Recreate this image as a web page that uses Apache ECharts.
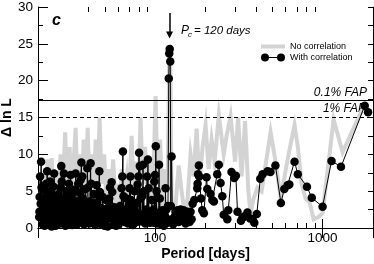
<!DOCTYPE html>
<html><head><meta charset="utf-8">
<script src="https://cdn.jsdelivr.net/npm/echarts@6/dist/echarts.min.js"></script>
<style>html,body{margin:0;padding:0;background:#fff}#c{width:374px;height:264px}</style>
</head><body><div id="c"></div>
<script>
// ---- data (period in days, Δ ln L) ----
const noCorrPeriods = [20.3,21.01,21.89,22.83,23.46,24.12,24.79,25.47,26.19,27.28,28.06,29.04,29.85,30.89,31.76,32.65,33.54,34.5,35.45,36.44,37.46,38.48,39.58,40.67,41.81,42.98,44.16,45.41,46.66,47.96,49.65,51.38,52.82,54.26,56.19,58.12,59.76,61.41,63.12,64.9,67.63,69.52,72.43,74.46,76.49,79.21,81.93,84.27,87.19,90.24,92.75,95.33,98.02,100.7,103.5,107.1,110.9,114.7,118.8,121.3,122.6,123.7,125.5,131,138.2,144,150.1,156.4,162.9,169.8,177,184.4,192.1,200.2,208.7,217.5,226.6,240.3,257,267.3,282.3,300.4,313,328.5,344.4,360.6,371.6,387.5,409,432.6,456.7,489.3,524.1,561.4,593.2,626.8,679.9,711.6,749.5,791.7,836.6,884,945,1000,1164,1317,1758,1882];
const noCorrValues = [2,6,3,9.3,2,9.5,4,7,3,10,5,13,6,11,4,9,13.6,5,10,4,12,6,13.6,5,10,3,12,6,15.0,6,10,3,8,4,9.3,3,6,2,8,4,7,3,12.5,5,9,4,15.0,6,11,4,9,3,8,17.9,6,12,3,8,5,22,24.5,20,3,1.5,8.5,5,2,4,10,7,13.5,6,11,14,8,12,9,15.3,10,12.5,15.2,9,15.0,7,14.5,5,2,4,5.5,5,8.5,13,9,4.2,7,10,14,11,6,4,3.5,1.2,1.5,2.0,14.7,10.3,16.5,15.5];

const withCorrPeriods = [20.33,20.46,20.59,20.87,21.0,21.15,21.3,21.44,21.6,21.74,21.9,22.04,22.19,22.35,22.67,22.83,22.99,23.15,23.3,23.46,23.62,23.78,23.95,24.12,24.29,24.46,24.79,24.96,25.13,25.3,25.47,25.65,25.83,26.01,26.19,26.37,26.56,26.74,26.92,27.1,27.28,27.55,27.75,27.94,28.14,28.33,28.57,28.76,28.96,29.15,29.35,29.56,29.77,29.98,30.19,30.4,30.6,30.81,31.02,31.31,31.53,31.76,31.98,32.2,32.43,32.65,32.87,33.1,33.54,33.78,34.02,34.26,34.5,34.74,34.98,35.22,35.45,35.69,35.93,36.34,36.8,37.05,37.31,37.61,37.97,38.28,38.59,38.92,39.41,39.74,40.12,40.45,40.78,41.22,41.57,41.93,42.28,42.69,43.1,43.51,43.92,44.35,44.79,45.22,45.66,46.04,46.48,46.91,47.36,47.83,48.3,48.78,49.31,49.85,50.39,50.95,51.52,52.1,52.67,53.25,53.83,54.41,55.03,55.5,56.04,56.58,57.2,57.81,58.45,59.11,59.77,60.42,61.08,61.74,62.41,63.12,63.74,64.28,64.81,65.43,66.06,66.68,67.44,68.2,68.95,69.71,70.46,71.22,72.02,72.84,73.65,74.46,75.27,76.09,76.93,77.8,78.67,79.54,80.3,81.06,81.93,82.86,83.8,84.73,85.67,86.6,87.54,88.52,89.64,90.63,91.63,92.62,93.62,94.66,95.73,96.8,97.88,98.95,100.0,101.0,102.1,103.3,104.4,105.6,106.7,107.8,109.0,110.3,111.5,112.8,114.0,115.5,116.8,118.1,119.4,120.7,121.5,122.3,123.2,124.2,125.5,126.9,128.2,130.4,132.6,134.5,136.3,138.2,140.1,142.0,144.0,146.0,148.0,150.1,152.1,154.2,156.4,158.5,160.7,162.9,165.2,167.5,171.5,178.6,179.4,180.5,182.6,183.5,188.0,191.3,195.6,203.0,205.0,214.5,219.6,224.5,235.0,240.2,246.0,252.0,257.0,270.0,273.5,286.0,296.8,303.5,310.6,325.6,333.0,342.3,356.0,369.4,383.0,391.2,405.0,424.7,438.6,470.0,488.6,522.9,563.8,590.8,618.3,633.1,679.9,711.6,806.8,862.0,1000,1131,1288,1785,1869];
const withCorrValues = [1.5,4.2,7.0,9.0,5.5,2.0,0.5,3.0,5.2,1.2,0.3,2.5,4.0,6.0,7.7,4.8,1.5,0.4,2.8,5.0,6.3,3.5,1.0,0.2,2.0,4.5,5.6,7.4,3.8,1.2,0.3,2.2,3.9,1.5,0.5,2.8,4.6,2.0,0.6,3.4,5.5,8.4,6.3,3.0,0.8,2.5,7.4,4.0,1.2,0.3,2.6,5.0,3.2,1.0,2.2,4.4,6.0,3.3,0.8,7.2,4.5,1.5,0.4,2.8,5.2,3.0,1.0,2.4,7.4,5.0,1.8,0.5,3.0,6.0,3.5,1.0,2.5,4.8,6.5,8.9,7.0,4.0,1.4,0.5,2.8,5.3,3.2,1.0,8.1,5.5,2.5,0.6,3.6,8.8,6.0,3.0,1.0,2.6,4.6,2.0,0.4,3.0,5.8,3.5,1.2,4.4,7.7,4.9,2.0,0.5,2.6,4.2,1.8,0.3,2.2,3.8,1.2,0.2,2.6,4.0,5.5,3.0,6.2,4.9,2.0,0.5,2.8,1.0,0.3,2.2,1.2,0.4,2.0,3.0,1.0,5.4,7.0,10.4,4.3,2.0,0.8,2.5,4.0,2.0,0.6,3.2,5.4,7.0,3.8,1.4,0.4,2.8,5.0,2.2,0.8,3.4,5.9,7.0,10.2,8.4,4.0,1.5,4.3,8.6,5.0,2.0,0.6,2.5,7.0,9.3,5.4,2.0,0.8,2.2,3.8,1.2,2.5,6.3,7.2,11.1,5.0,2.0,0.8,8.6,4.0,1.5,0.5,2.4,1.0,0.3,1.8,5.4,2.5,1.0,3.0,20.3,23.7,24.3,22.6,3.0,9.7,1.2,0.5,1.5,2.2,1.0,2.4,0.8,1.9,2.5,1.0,1.8,2.4,1.3,0.6,1.5,2.2,1.0,0.8,2.2,1.2,3.3,3.8,5.4,6.0,7.3,8.5,7.0,4.0,2.4,2.0,6.9,5.3,4.6,3.8,3.6,7.3,8.6,6.1,4.3,1.8,1.2,2.4,7.6,6.8,7.1,2.2,1.0,1.4,1.6,2.1,1.3,1.2,0.7,1.9,6.7,7.3,7.7,7.6,8.5,3.4,5.3,5.8,5.9,9.0,7.3,5.6,4.1,2.9,9.1,8.3,16.6,15.7];
// additional densely packed low-level points of the same periodogram
const withCorrFillPeriods = [20.4,20.75,21.08,21.37,21.67,21.97,22.27,22.51,22.91,23.22,23.54,23.87,24.2,24.6,24.88,25.21,25.56,25.92,26.28,26.65,27.01,27.42,27.85,28.24,28.66,29.05,29.46,29.88,30.3,30.71,31.16,31.64,32.09,32.54,32.98,33.32,33.9,34.38,34.86,35.34,35.81,36.57,37.18,37.79,38.44,38.75,39.16,39.93,40.61,41.39,42.1,42.48,42.89,43.3,43.71,44.13,44.57,45.0,45.44,45.85,46.7,47.13,47.6,48.06,48.54,49.04,49.58,50.12,50.67,51.23,51.81,52.38,52.96,53.54,54.12,54.72,55.27,55.77,56.31,56.89,57.5,58.13,58.78,59.44,60.1,60.75,61.41,62.08,62.76,63.43,64.55,65.12,65.75,66.37,67.06,67.82,68.58,69.33,70.08,70.84,71.62,72.43,73.24,74.05,74.86,75.68,76.51,77.37,78.24,79.1,80.68,81.5,82.4,83.33,84.27,85.2,86.13,87.07,88.03,89.08,90.13,91.13,92.12,93.12,94.14,95.2,96.26,97.34,98.4,99.5,100.5,101.55,102.7,103.85,105.0,106.15,107.25,108.4,109.65,110.9,112.15,113.4,114.75,116.15,117.45,118.75];
const withCorrFillValues = [2.2,3.3,1.8,3.6,2.4,3.0,1.6,2.9,3.4,2.1,3.7,2.6,1.7,3.2,2.0,3.5,1.9,2.9,3.6,1.4,2.6,3.3,1.8,3.8,2.3,3.1,1.5,2.7,3.6,1.9,2.8,3.4,2.0,3.7,1.6,3.1,2.5,3.6,1.7,2.9,3.5,2.2,2.9,2.1,3.3,2.4,2.8,1.8,2.7,2.6,2.2,2.9,1.7,2.6,2.3,2.8,1.6,2.5,2.7,2.0,2.6,1.5,2.7,2.1,2.4,1.6,2.5,2.0,1.5,2.4,1.9,2.6,1.4,2.1,1.6,2.3,1.8,2.2,1.2,1.9,1.5,2.0,1.1,1.6,1.9,1.3,0.9,1.5,1.8,1.1,1.7,1.4,1.8,0.8,1.5,1.3,1.7,0.9,1.2,1.6,1.1,1.4,1.0,1.7,0.6,1.5,1.3,0.8,1.2,1.4,1.1,1.5,1.2,0.9,1.4,1.3,1.6,0.7,1.5,0.8,1.1,1.4,1.3,0.7,1.4,1.2,0.9,1.5,0.7,1.3,1.1,1.4,0.6,1.2,1.4,1.0,1.2,0.9,0.8,1.3,1.0,0.6,1.1,1.4,0.9,0.7];

const fapLevels = [17.4, 15.0];
const fapLabels = ['0.1% FAP', '1% FAP'];
const xTickLabels = [100, 1000];
const xMinorTicks = [40,50,60,70,80,90,200,300,400,500,600,700,800,900];
const peakPeriod = 122;
const arrowFrom = 29.2, arrowTo = 26.2;

const FONT = '"Liberation Sans", Arial, Helvetica, sans-serif';
const zip = (a, b) => a.map((p, i) => [p, b[i]]);
const withCorrData = zip(withCorrPeriods, withCorrValues)
  .concat(zip(withCorrFillPeriods, withCorrFillValues))
  .sort((a, b) => a[0] - b[0]);

const chart = echarts.init(document.getElementById('c'), null, {renderer: 'canvas'});
const dotsIcon = 'path://M0,4A4,4,0,1,1,8,4A4,4,0,1,1,0,4ZM8,3.5L16,3.5L16,4.5L8,4.5ZM16,4A4,4,0,1,1,24,4A4,4,0,1,1,16,4Z';

chart.setOption({
  animation: false,
  backgroundColor: '#fff',
  grid: {left: 38, right: 1, top: 7, bottom: 36, containLabel: false, outerBoundsMode: 'none'},
  legend: {
    orient: 'vertical', left: 256, top: 37, itemWidth: 24, itemHeight: 8, itemGap: 2,
    selectedMode: false,
    textStyle: {fontSize: 9, fontFamily: FONT, color: '#000'},
    data: [
      {name: 'No correlation', icon: 'path://M0,2L24,2L24,6L0,6Z', itemStyle: {color: '#d3d3d3'}},
      {name: 'With correlation', icon: dotsIcon, itemStyle: {color: '#000'}}
    ]
  },
  xAxis: [
    {
      type: 'log', logBase: 10, min: 20, max: 2000, position: 'bottom',
      axisLine: {show: true, lineStyle: {color: '#000', width: 1}},
      axisTick: {show: true, inside: true, length: 9, lineStyle: {color: '#000'}},
      axisLabel: {color: '#000', fontSize: 13.5, fontFamily: FONT, margin: 3,
        formatter: v => xTickLabels.some(t => Math.abs(t - v) / t < 1e-6) ? String(Math.round(v)) : ''},
      splitLine: {show: false},
      name: 'Period [days]', nameLocation: 'middle', nameGap: 19, nameMoveOverlap: false,
      nameTextStyle: {fontSize: 14, fontWeight: 'bold', fontFamily: FONT, color: '#000'}
    },
    {
      type: 'log', logBase: 10, min: 20, max: 2000, position: 'top',
      axisLine: {show: true, lineStyle: {color: '#000', width: 1}},
      axisTick: {show: true, inside: true, length: 10, lineStyle: {color: '#000'}},
      axisLabel: {show: false}, splitLine: {show: false}
    }
  ],
  yAxis: [
    {
      type: 'value', min: 0, max: 30, interval: 5, position: 'left',
      axisLine: {show: true, lineStyle: {color: '#000', width: 1}},
      axisTick: {show: true, inside: true, length: 10, lineStyle: {color: '#000'}},
      minorTick: {show: true, splitNumber: 2, length: 5, lineStyle: {color: '#000'}},
      axisLabel: {color: '#000', fontSize: 13.5, fontFamily: FONT, margin: 5},
      splitLine: {show: false},
      name: 'Δ ln L', nameLocation: 'middle', nameGap: 24, nameMoveOverlap: false,
      nameTextStyle: {fontSize: 14, fontWeight: 'bold', fontFamily: FONT, color: '#000'}
    },
    {
      type: 'value', min: 0, max: 30, interval: 2.5, position: 'right',
      axisLine: {show: true, lineStyle: {color: '#000', width: 1}},
      axisTick: {show: true, inside: true, length: 5, lineStyle: {color: '#000'}},
      axisLabel: {show: false}, splitLine: {show: false}
    }
  ],
  series: [
    {
      name: 'No correlation', type: 'line', xAxisIndex: 0, yAxisIndex: 0, z: 2,
      data: zip(noCorrPeriods, noCorrValues), showSymbol: false, symbol: 'none',
      lineStyle: {color: '#d3d3d3', width: 4, join: 'miter'}, itemStyle: {color: '#d3d3d3'},
      silent: true,
      markLine: {
        silent: true, symbol: 'none', label: {show: false},
        lineStyle: {color: '#000', width: 1},
        data: [
          {yAxis: fapLevels[0], lineStyle: {type: 'solid', color: '#000', width: 1}},
          {yAxis: fapLevels[1], lineStyle: {type: [4, 3], color: '#000', width: 1}}
        ]
      }
    },
    {
      name: 'With correlation', type: 'line', xAxisIndex: 0, yAxisIndex: 0, z: 4,
      data: withCorrData, symbol: 'circle', symbolSize: 8.5,
      showSymbol: true, showAllSymbol: true,
      lineStyle: {color: '#000', width: 1}, itemStyle: {color: '#000'},
      silent: true,
      markLine: {
        silent: true, label: {show: false}, symbol: ['none', 'triangle'], symbolSize: 7,
        lineStyle: {color: '#000', width: 1.5, type: 'solid'},
        data: [[{coord: [peakPeriod, arrowFrom]}, {coord: [peakPeriod, arrowTo]}]]
      }
    },
    {
      type: 'custom', xAxisIndex: 0, yAxisIndex: 0, silent: true, z: 5, clip: false,
      data: xMinorTicks.map(v => [v, 0]),
      renderItem: (params, api) => {
        const v = api.value(0);
        const b = api.coord([v, 0]);
        const t = api.coord([v, 30]);
        const x = Math.round(b[0]) + 0.5;
        return {type: 'group', children: [
          {type: 'line', shape: {x1: x, y1: b[1], x2: x, y2: b[1] - 5}, style: {stroke: '#000', lineWidth: 1}},
          {type: 'line', shape: {x1: x, y1: t[1], x2: x, y2: t[1] + 5}, style: {stroke: '#000', lineWidth: 1}}
        ]};
      }
    }
  ],
  graphic: [
    {type: 'text', left: 52, top: 13, z: 10, style: {text: 'c', font: 'italic bold 16px ' + FONT, fill: '#000'}},
    {type: 'text', x: 181, y: 31, z: 10, style: {text: 'P', font: 'italic 12px ' + FONT, fill: '#000', verticalAlign: 'middle'}},
    {type: 'text', x: 188, y: 35, z: 10, style: {text: 'c', font: 'italic 8px ' + FONT, fill: '#000', verticalAlign: 'middle'}},
    {type: 'text', x: 194, y: 31, z: 10, style: {text: '= 120 days', font: 'italic 11.5px ' + FONT, fill: '#000', verticalAlign: 'middle'}},
    {type: 'text', x: 367, y: 93, z: 1, style: {text: fapLabels[0], font: 'italic 12px ' + FONT, fill: '#000', align: 'right', verticalAlign: 'middle'}},
    {type: 'text', x: 366, y: 108.5, z: 1, style: {text: fapLabels[1], font: 'italic 12px ' + FONT, fill: '#000', align: 'right', verticalAlign: 'middle'}}
  ]
});
</script></body></html>
